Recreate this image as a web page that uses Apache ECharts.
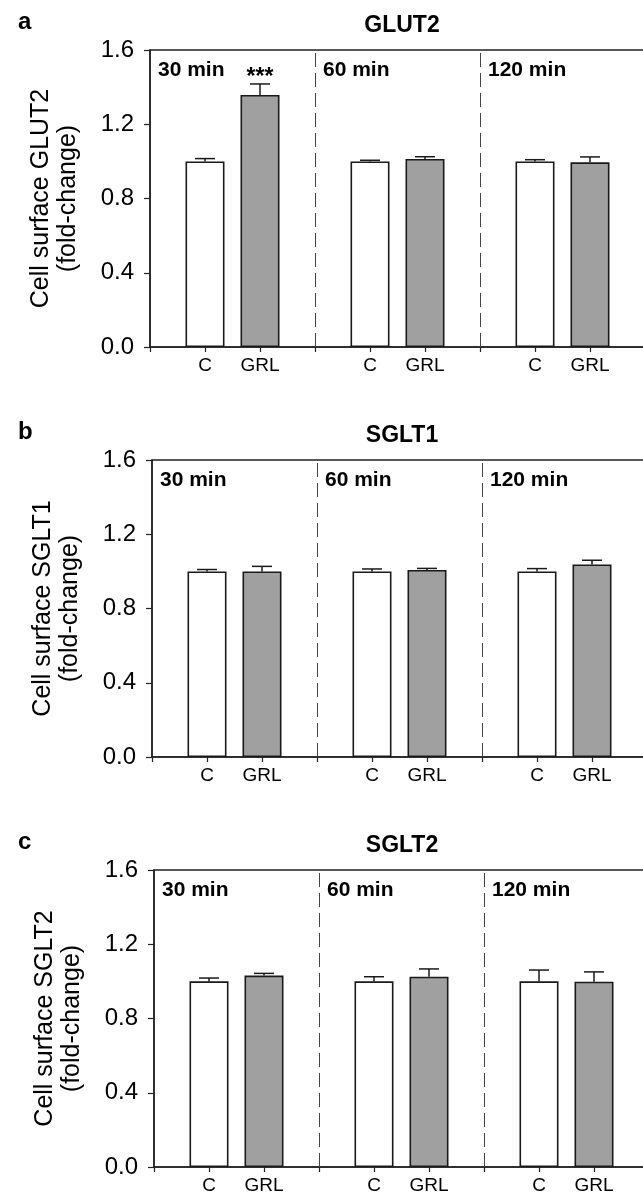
<!DOCTYPE html>
<html><head><meta charset="utf-8">
<script src="https://cdn.jsdelivr.net/npm/echarts@6/dist/echarts.min.js"></script>
<style>html,body{margin:0;padding:0;background:#fff}#c{width:643px;height:1196px}</style>
</head><body><div id="c"></div><script>
// ---- data ----
const groups = ['C', 'GRL'];
const times = ['30 min', '60 min', '120 min'];
const yTicks = [0, 0.4, 0.8, 1.2, 1.6];
const proteins = ['GLUT2', 'SGLT1', 'SGLT2'];
const panelLetters = ['a', 'b', 'c'];

const glut2C = [1.0, 1.0, 1.0];
const glut2CErr = [0.015, 0.006, 0.009];
const glut2GRL = [1.358, 1.013, 0.995];
const glut2GRLErr = [0.059, 0.012, 0.029];
const glut2Sig = ['***', '', ''];

const sglt1C = [1.0, 1.0, 1.0];
const sglt1CErr = [0.010, 0.013, 0.015];
const sglt1GRL = [1.0, 1.008, 1.037];
const sglt1GRLErr = [0.027, 0.008, 0.023];
const sglt1Sig = ['', '', ''];

const sglt2C = [1.0, 1.0, 1.0];
const sglt2CErr = [0.018, 0.025, 0.061];
const sglt2GRL = [1.031, 1.025, 0.998];
const sglt2GRLErr = [0.012, 0.042, 0.053];
const sglt2Sig = ['', '', ''];

const panelData = [
  [glut2C, glut2CErr, glut2GRL, glut2GRLErr, glut2Sig],
  [sglt1C, sglt1CErr, sglt1GRL, sglt1GRLErr, sglt1Sig],
  [sglt2C, sglt2CErr, sglt2GRL, sglt2GRLErr, sglt2Sig]
];

// ---- layout ----
const FONT = "'Liberation Sans', Arial, sans-serif";
const gridTops = [50, 460, 870];
const gridLefts = [150, 152, 154];
const plotH = 297;
const unit = 55;
const timeLabelY = 1.49;

// category axis: leading pad, then C, GRL, separator for each time, trailing pad
const cats = [''];
times.forEach(() => { cats.push(groups[0], groups[1], ''); });
cats.push('');
const idxC = t => 1 + t * 3;
const idxG = t => 2 + t * 3;
const sepIdx = t => 3 + t * 3;

const option = { animation: false, backgroundColor: '#fff',
  title: [], grid: [], xAxis: [], yAxis: [], series: [] };

proteins.forEach((prot, p) => {
  const [cVals, cErr, gVals, gErr, sig] = panelData[p];
  const top = gridTops[p];
  option.title.push({ text: panelLetters[p], left: 13, top: top - 45,
    textStyle: { fontFamily: FONT, fontSize: 24, fontWeight: 'bold', color: '#000' } });
  option.title.push({ text: prot, left: 397, textAlign: 'center', top: top - 41,
    textStyle: { fontFamily: FONT, fontSize: 23, fontWeight: 'bold', color: '#000' } });
  option.grid.push({ left: gridLefts[p], top: top, height: plotH, width: unit * (cats.length - 1),
    outerBoundsMode: 'none', containLabel: false,
    show: true, borderColor: '#222', borderWidth: 1.5, backgroundColor: 'transparent' });
  option.xAxis.push({ gridIndex: p, type: 'category', data: cats, boundaryGap: false,
    axisLine: { lineStyle: { color: '#222', width: 1.5 } },
    axisTick: { show: true, interval: 0, length: 5, lineStyle: { color: '#222', width: 1.2 } },
    axisLabel: { interval: 0, margin: 9, fontFamily: FONT, fontSize: 19, color: '#000' },
    splitLine: { show: false } });
  option.yAxis.push({ gridIndex: p, type: 'value', min: yTicks[0], max: yTicks[yTicks.length - 1],
    interval: yTicks[1] - yTicks[0],
    name: 'Cell surface ' + prot + '\n(fold-change)', nameLocation: 'middle', nameRotate: 90, nameGap: 68,
    nameTextStyle: { fontFamily: FONT, fontSize: 25, color: '#000', lineHeight: 27 },
    axisLine: { show: true, lineStyle: { color: '#222', width: 1.5 } },
    axisTick: { show: true, length: 6, lineStyle: { color: '#222', width: 1.2 } },
    axisLabel: { margin: 16, fontFamily: FONT, fontSize: 24, color: '#000', formatter: v => v.toFixed(1) },
    splitLine: { show: false } });

  const cData = cats.map(() => '-');
  const gData = cats.map(() => '-');
  const errData = [];
  const sigData = [];
  times.forEach((t, i) => {
    cData[idxC(i)] = cVals[i];
    gData[idxG(i)] = gVals[i];
    errData.push([idxC(i), cVals[i], cErr[i]]);
    errData.push([idxG(i), gVals[i], gErr[i]]);
    if (sig[i]) sigData.push({ value: [idxG(i), gVals[i] + gErr[i]], name: sig[i] });
  });

  option.series.push({ name: groups[0], type: 'bar', xAxisIndex: p, yAxisIndex: p, data: cData,
    barWidth: 39, barGap: '-100%',
    itemStyle: { color: '#ffffff', borderColor: '#1a1a1a', borderWidth: 1.6 },
    markLine: { silent: true, symbol: ['none', 'none'], label: { show: false },
      lineStyle: { type: [14, 6], color: '#444', width: 1 },
      data: [{ xAxis: sepIdx(0) }, { xAxis: sepIdx(1) }] } });
  option.series.push({ name: groups[1], type: 'bar', xAxisIndex: p, yAxisIndex: p, data: gData,
    barWidth: 39, barGap: '-100%',
    itemStyle: { color: '#a0a0a0', borderColor: '#1a1a1a', borderWidth: 1.6 } });
  option.series.push({ type: 'custom', xAxisIndex: p, yAxisIndex: p, data: errData, z: 5,
    encode: { x: 0, y: 1 },
    renderItem: (params, api) => {
      const x = api.value(0), m = api.value(1), e = api.value(2);
      const p0 = api.coord([x, m]);
      const p1 = api.coord([x, m + e]);
      const hw = 10;
      return { type: 'group', children: [
        { type: 'line', shape: { x1: p0[0], y1: p0[1], x2: p1[0], y2: p1[1] }, style: { stroke: '#1a1a1a', lineWidth: 1.5 } },
        { type: 'line', shape: { x1: p1[0] - hw, y1: p1[1], x2: p1[0] + hw, y2: p1[1] }, style: { stroke: '#1a1a1a', lineWidth: 1.5 } }
      ] };
    } });
  option.series.push({ type: 'scatter', xAxisIndex: p, yAxisIndex: p, symbolSize: 0, silent: true,
    data: times.map((t, i) => ({ value: [i * 3, timeLabelY], name: t })),
    label: { show: true, position: 'right', distance: 8, formatter: d => d.name,
      fontFamily: FONT, fontSize: 21, fontWeight: 'bold', color: '#000', opacity: 1 } });
  if (sigData.length) option.series.push({ type: 'scatter', xAxisIndex: p, yAxisIndex: p, symbolSize: 0, silent: true,
    data: sigData,
    label: { show: true, position: 'inside', offset: [0, -6], formatter: d => d.name,
      fontFamily: FONT, fontSize: 23, fontWeight: 'bold', color: '#000', opacity: 1 } });
});

const chart = echarts.init(document.getElementById('c'), null, { renderer: 'canvas' });
chart.setOption(option);
</script></body></html>
